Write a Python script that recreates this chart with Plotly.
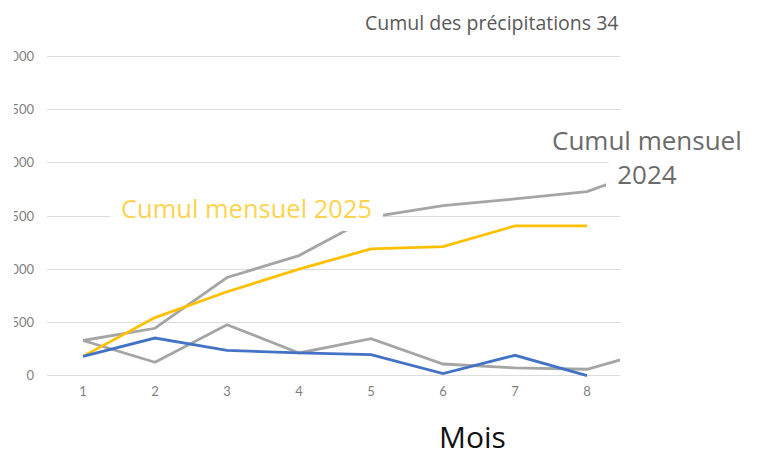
import plotly.graph_objects as go

# ---- data ----
mois = [1, 2, 3, 4, 5, 6, 7, 8, 9]
mensuel_2024 = [330, 125, 478, 213, 347, 109, 72, 60, 250]
cumul_2024 = [330, 445, 922, 1128, 1490, 1597, 1660, 1729, 1975]
mois_2025 = [1, 2, 3, 4, 5, 6, 7, 8]
mensuel_2025 = [181, 353, 238, 213, 197, 19, 191, 0]
cumul_2025 = [181, 545, 788, 1000, 1191, 1213, 1407, 1407]
y_ticks = [0, 500, 1000, 1500, 2000, 2500, 3000]
x_ticks = [1, 2, 3, 4, 5, 6, 7, 8]

# the page has an 8px body margin: figure is drawn from (8, 8)
OFF = 8
W, H = 759 - OFF, 450 - OFF
ML, MR, MT, MB = 47 - OFF, 139, 50 - OFF, 68
PW, PH = W - ML - MR, H - MT - MB


def px(x):  # page pixel -> paper x
    return (x - OFF - ML) / PW


def py(y):  # page pixel -> paper y
    return (H - MB - (y - OFF)) / PH


GRAY = "#a5a5a5"
BLUE = "#4472c4"
GOLD = "#ffc000"

fig = go.Figure()
fig.add_trace(go.Scatter(x=mois, y=mensuel_2024, mode="lines",
                         line=dict(color=GRAY, width=2.8), name="Mensuel 2024"))
fig.add_trace(go.Scatter(x=mois, y=cumul_2024, mode="lines",
                         line=dict(color=GRAY, width=2.8), name="Cumul mensuel 2024"))
fig.add_trace(go.Scatter(x=mois_2025, y=cumul_2025, mode="lines",
                         line=dict(color=GOLD, width=2.8), name="Cumul mensuel 2025"))
fig.add_trace(go.Scatter(x=mois_2025, y=mensuel_2025, mode="lines",
                         line=dict(color=BLUE, width=2.8), name="Mensuel 2025"))

# white boxes behind the hand-placed labels (cover lines/gridlines)
r = 10
x0, y0, x1, y1 = 606, 160, 720, 210
fig.add_shape(type="path", xref="paper", yref="paper", layer="above",
              path=(f"M {px(x0)},{py(y1)} L {px(x0)},{py(y0 + r)} "
                    f"Q {px(x0)},{py(y0)} {px(x0 + r)},{py(y0)} "
                    f"L {px(x1)},{py(y0)} L {px(x1)},{py(y1)} Z"),
              fillcolor="white", line=dict(width=0))
fig.add_shape(type="rect", xref="paper", yref="paper", layer="above",
              x0=px(110), x1=px(383), y0=py(231), y1=py(194),
              fillcolor="white", line=dict(width=0))
# cropped left edge of the original screenshot
fig.add_shape(type="rect", xref="paper", yref="paper", layer="above",
              x0=px(0), x1=px(14), y0=py(450), y1=py(30),
              fillcolor="white", line=dict(width=0))

fig.add_annotation(text="Cumul des précipitations 34", xref="paper", yref="paper",
                   x=px(620), y=py(22), xanchor="right", yanchor="middle",
                   showarrow=False, font=dict(family="Open Sans", size=19.5, color="#595959"))
fig.add_annotation(text="Cumul mensuel 2025", xref="paper", yref="paper",
                   x=px(246), y=py(208), xanchor="center", yanchor="middle",
                   showarrow=False, font=dict(family="Open Sans", size=25.5, color="#fdd34f"))
fig.add_annotation(text="Cumul mensuel<br>2024", xref="paper", yref="paper",
                   x=px(647), y=py(157), xanchor="center", yanchor="middle",
                   showarrow=False, font=dict(family="Open Sans", size=26, color="#6b6b6b"))
fig.add_annotation(text="Mois", xref="paper", yref="paper",
                   x=px(472), y=py(436), xanchor="center", yanchor="middle",
                   showarrow=False, font=dict(family="Open Sans", size=30, color="#111111"))

fig.update_xaxes(range=[0.5, 8.458], tickvals=x_ticks, ticktext=[str(v) for v in x_ticks],
                 showgrid=False, zeroline=False, showline=False, ticks="",
                 ticklabelstandoff=0, automargin=False,
                 tickfont=dict(family="Lato", size=13, color="#7f7f7f"))
fig.update_yaxes(range=[-60, 3060], tickvals=y_ticks, ticktext=[str(v) for v in y_ticks],
                 showgrid=True, gridcolor="#dcdcdc", gridwidth=1.2, zeroline=False,
                 showline=False, ticks="", ticklabelstandoff=12, automargin=False,
                 tickfont=dict(family="Lato", size=13, color="#7f7f7f"))
fig.update_layout(width=W, height=H, margin=dict(l=ML, r=MR, t=MT, b=MB, autoexpand=False),
                  paper_bgcolor="white", plot_bgcolor="white", showlegend=False)

fig.write_html("out.html")
